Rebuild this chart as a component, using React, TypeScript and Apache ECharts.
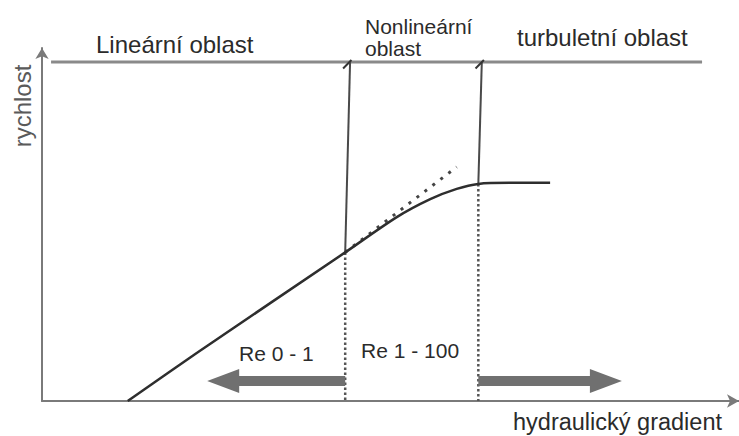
import React, { useEffect, useRef } from "react";
import * as echarts from "echarts";

// ---- data (abstract units: x = hydraulic gradient 0..100, y = velocity 0..100) ----
const curveX = [12.3, 22.2, 43.5, 50.9, 55.7, 59.5, 62.6, 67.1, 72.9];
const curveY = [0, 13.6, 42.1, 52.1, 57.2, 60.1, 61.5, 61.8, 61.8];

const tangentX = [43.5, 59.5];
const tangentY = [42.1, 66.3];

const topLineX = [1.3, 94.7];
const topLineY = [96.0, 96.0];

// region boundaries: solid part (top line -> curve) and dotted part (curve -> x axis)
const boundaryTopX = [44.2, 63.1];
const boundaryBottomX = [43.5, 62.6];
const boundaryCurveY = [42.1, 61.5];
const boundaryTopY = 96.0;

// small slanted marks where the boundaries meet the top line
const markStartX = [43.2, 62.2];
const markEndX = [44.4, 63.4];
const markStartY = 94.2;
const markEndY = 96.6;

// flow arrows: [from x, to x, y]
const arrowFrom = [43.5, 62.6];
const arrowTo = [23.7, 83.2];
const arrowY = [5.7, 5.7];

// texts
const regionLabels = ["Lineární oblast", "Nonlineární\noblast", "turbuletní oblast"];
const reLabels = ["Re 0 - 1", "Re 1 - 100"];
const xAxisName = "hydraulický gradient";
const yAxisName = "rychlost";

const FONT = "'Liberation Sans', Arial, Helvetica, sans-serif";

export default function App() {
  const ref = useRef<HTMLDivElement>(null);

  useEffect(() => {
    if (!ref.current) return;
    const chart = echarts.init(ref.current, null, { renderer: "svg" });

    const seg = (xs: number[], ys: number[]) => xs.map((x, i) => [x, ys[i]]);

    const series: any[] = [];

    // top horizontal line
    series.push({
      type: "line",
      data: seg(topLineX, topLineY),
      symbol: "none",
      lineStyle: { color: "#8a8a8a", width: 3 },
      z: 2,
    });

    // boundaries
    boundaryTopX.forEach((tx, i) => {
      series.push({
        type: "line",
        data: [
          [tx, boundaryTopY],
          [boundaryBottomX[i], boundaryCurveY[i]],
        ],
        symbol: "none",
        lineStyle: { color: "#4a4a4a", width: 2 },
        z: 3,
      });
      series.push({
        type: "line",
        data: [
          [boundaryBottomX[i], boundaryCurveY[i]],
          [boundaryBottomX[i], 0],
        ],
        symbol: "none",
        lineStyle: { color: "#555", width: 2.5, type: [2.5, 2.5] },
        z: 3,
      });
      series.push({
        type: "line",
        data: [
          [markStartX[i], markStartY],
          [markEndX[i], markEndY],
        ],
        symbol: "none",
        lineStyle: { color: "#333", width: 2 },
        z: 4,
      });
    });

    // tangent (dotted)
    series.push({
      type: "line",
      data: seg(tangentX, tangentY),
      symbol: "none",
      lineStyle: { color: "#444", width: 3, type: [3, 7] },
      z: 3,
    });

    // main curve
    series.push({
      type: "line",
      data: seg(curveX, curveY),
      symbol: "none",
      smooth: 0.3,
      lineStyle: { color: "#2e2e2e", width: 2.5 },
      z: 5,
    });

    // arrows
    series.push({
      type: "custom",
      data: arrowFrom.map((f, i) => [f, arrowTo[i], arrowY[i]]),
      encode: { x: [0, 1], y: 2 },
      z: 6,
      renderItem: (_p: any, api: any) => {
        const p0 = api.coord([api.value(0), api.value(2)]);
        const p1 = api.coord([api.value(1), api.value(2)]);
        const dir = p1[0] > p0[0] ? 1 : -1;
        const headLen = 32;
        const headHalf = 12;
        const bodyHalf = 5;
        const cy = p0[1];
        const bx = p1[0] - dir * headLen;
        return {
          type: "polygon",
          shape: {
            points: [
              [p0[0], cy - bodyHalf],
              [bx, cy - bodyHalf],
              [bx, cy - headHalf],
              [p1[0], cy],
              [bx, cy + headHalf],
              [bx, cy + bodyHalf],
              [p0[0], cy + bodyHalf],
            ],
          },
          style: { fill: "#707070" },
        };
      },
    });

    const text = (t: string, x: number, y: number, size: number, fill: string) => ({
      type: "text",
      x,
      y,
      style: {
        text: t,
        fontSize: size,
        fontFamily: FONT,
        fill,
        align: "left",
        verticalAlign: "middle",
        lineHeight: size + 1,
      },
    });

    chart.setOption({
      animation: false,
      backgroundColor: "#ffffff",
      grid: { left: 42, right: 0, top: 48, bottom: 35 },
      xAxis: {
        type: "value",
        min: 0,
        max: 100,
        axisLine: {
          show: true,
          symbol: ["none", "arrow"],
          symbolSize: [10, 12],
          lineStyle: { color: "#7a7a7a", width: 2 },
        },
        axisTick: { show: false },
        axisLabel: { show: false },
        splitLine: { show: false },
      },
      yAxis: {
        type: "value",
        min: 0,
        max: 100,
        axisLine: {
          show: true,
          symbol: ["none", "arrow"],
          symbolSize: [10, 11],
          lineStyle: { color: "#7a7a7a", width: 2 },
        },
        axisTick: { show: false },
        axisLabel: { show: false },
        splitLine: { show: false },
      },
      series,
      graphic: [
        text(regionLabels[0], 96, 44, 24, "#2b2b2b"),
        {
          type: "text",
          x: 365,
          y: 37,
          style: {
            text: regionLabels[1],
            fontSize: 21,
            fontFamily: FONT,
            fill: "#2b2b2b",
            align: "left",
            verticalAlign: "middle",
            lineHeight: 22,
          },
        },
        text(regionLabels[2], 517, 37, 24, "#2b2b2b"),
        text(reLabels[0], 239, 353, 21, "#2b2b2b"),
        text(reLabels[1], 361, 350, 21, "#2b2b2b"),
        text(xAxisName, 513, 422, 23.5, "#2b2b2b"),
        {
          type: "text",
          x: 22,
          y: 106,
          rotation: Math.PI / 2,
          style: {
            text: yAxisName,
            fontSize: 24,
            fontFamily: FONT,
            fill: "#5a5a5a",
            align: "center",
            verticalAlign: "middle",
          },
        },
      ],
    });

    return () => chart.dispose();
  }, []);

  return (
    <div
      ref={ref}
      style={{ position: "fixed", left: 0, top: 0, width: 739, height: 436, background: "#fff" }}
    />
  );
}
